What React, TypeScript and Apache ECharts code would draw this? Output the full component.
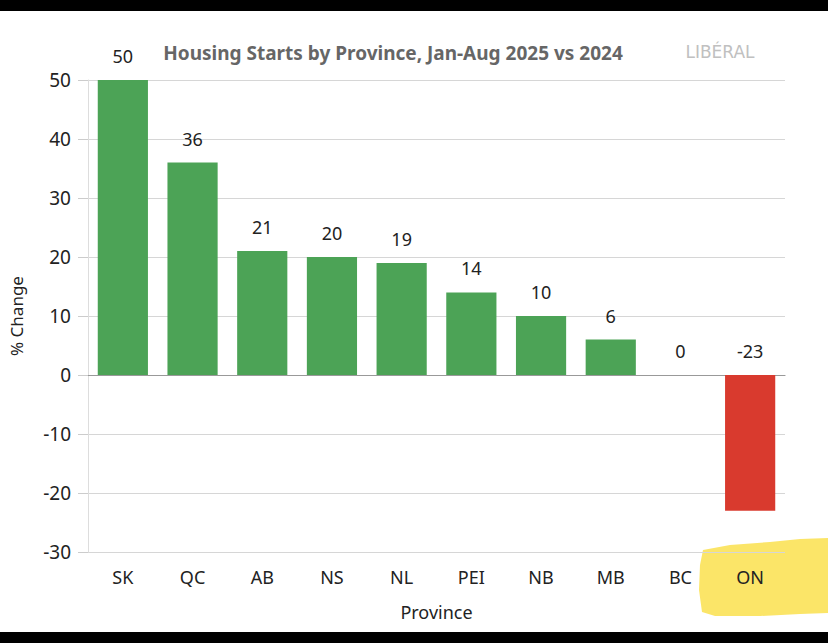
import React, { useEffect, useRef } from "react";
import * as echarts from "echarts";

const provinces = ["SK", "QC", "AB", "NS", "NL", "PEI", "NB", "MB", "BC", "ON"];
const changes = [50, 36, 21, 20, 19, 14, 10, 6, 0, -23];
const yTicks = { min: -30, max: 50, interval: 10 };
const titleText = "Housing Starts by Province, Jan-Aug 2025 vs 2024";
const logoText = "LIBÉRAL";

const GREEN = "#4ca356";
const RED = "#d93a2e";

export default function App() {
  const ref = useRef<HTMLDivElement>(null);
  useEffect(() => {
    if (!ref.current) return;
    const chart = echarts.init(ref.current, null, { renderer: "svg" });
    chart.setOption({
      animation: false,
      backgroundColor: "#ffffff",
      textStyle: { fontFamily: "Noto Sans" },
      grid: { left: 87, right: 43, top: 80, bottom: 91 },
      xAxis: {
        type: "category",
        data: provinces,
        name: "Province",
        nameLocation: "middle",
        nameGap: 51,
        nameTextStyle: { fontSize: 18, color: "#222" },
        axisTick: { show: false },
        axisLine: { lineStyle: { color: "#999", width: 1.2 } },
        axisLabel: { fontSize: 18, color: "#222", margin: 16 },
      },
      yAxis: {
        type: "value",
        min: yTicks.min,
        max: yTicks.max,
        interval: yTicks.interval,
        name: "% Change",
        nameLocation: "middle",
        nameGap: 63,
        nameTextStyle: { fontSize: 17, color: "#222" },
        axisLine: { show: true, lineStyle: { color: "#dddddd" } },
        axisTick: { show: true, length: 10, lineStyle: { color: "#cccccc" } },
        axisLabel: { fontSize: 19, color: "#222", margin: 17 },
        splitLine: { lineStyle: { color: "#d6d6d6" } },
      },
      series: [
        {
          type: "bar",
          data: changes.map((v) => ({
            value: v,
            itemStyle: { color: v < 0 ? RED : GREEN },
          })),
          barCategoryGap: "28%",
          label: {
            show: true,
            position: "top",
            distance: 15,
            fontSize: 18,
            color: "#222",
          },
        },
      ],
      graphic: [
        {
          type: "polygon",
          z: -10,
          shape: {
            points: [
              [703, 550], [730, 545], [770, 542], [800, 539], [828, 538],
              [828, 613], [800, 614], [760, 616], [715, 616], [702, 612], [699, 590], [700, 565],
            ],
          },
          style: { fill: "#fbe258", opacity: 0.9 },
        },
        {
          type: "text",
          x: 393,
          y: 53,
          style: {
            text: titleText,
            fontSize: 19,
            fontWeight: "bold",
            fill: "#666",
            textAlign: "center",
            textVerticalAlign: "middle",
            fontFamily: "Noto Sans",
          },
        },
        {
          type: "text",
          x: 720,
          y: 52,
          style: {
            text: logoText,
            fontSize: 17,
            fill: "#c0c0c0",
            textAlign: "center",
            textVerticalAlign: "middle",
            fontFamily: "DejaVu Sans",
          },
        },
        {
          type: "rect",
          z: 100,
          shape: { x: 0, y: 0, width: 828, height: 11 },
          style: { fill: "#000" },
        },
        {
          type: "rect",
          z: 100,
          shape: { x: 0, y: 632, width: 828, height: 11 },
          style: { fill: "#000" },
        },
      ],
    });
    return () => chart.dispose();
  }, []);
  return (
    <div
      ref={ref}
      style={{ position: "fixed", left: 0, top: 0, width: 828, height: 643 }}
    />
  );
}
